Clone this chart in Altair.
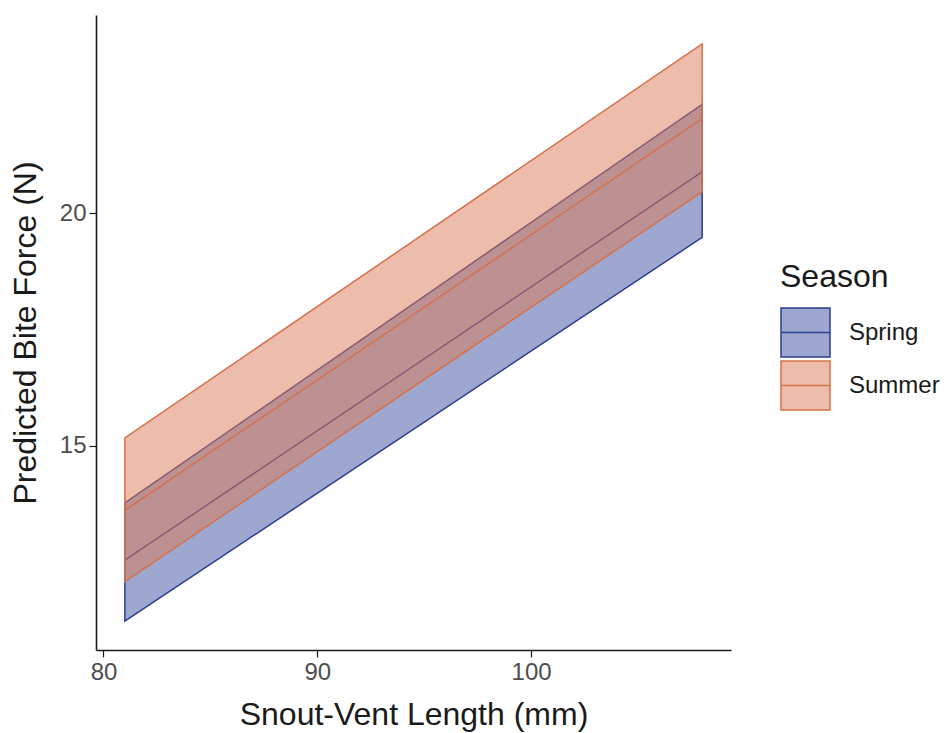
import altair as alt
import pandas as pd

# Predicted bite force across snout-vent length, by season
svl = [81, 108]
seasons = ["Spring", "Summer"]
spring_fit = [12.54, 20.89]
spring_lower = [11.23, 19.48]
spring_upper = [13.77, 22.34]
summer_fit = [13.61, 22.03]
summer_lower = [12.08, 20.46]
summer_upper = [15.17, 23.64]

rows = []
for season, fit, lo, hi in [
    ("Spring", spring_fit, spring_lower, spring_upper),
    ("Summer", summer_fit, summer_lower, summer_upper),
]:
    for x, f, l, h in zip(svl, fit, lo, hi):
        rows.append({"SVL": x, "Season": season, "fit": f, "lower": l, "upper": h})
df = pd.DataFrame(rows)

line_colors = ["#2E3D8F", "#D5714C"]
fill_colors = ["rgba(59,79,160,0.5)", "rgba(221,122,86,0.5)"]

font = "Liberation Sans"
# square key with a horizontal stroke through the middle
key_path = "M-1,-1H1V1H-1Z M-1,0H1"

x_scale = alt.Scale(domain=[79.65, 109.35], nice=False, zero=False)
y_scale = alt.Scale(domain=[10.61, 24.26], nice=False, zero=False)
fill_scale = alt.Scale(domain=seasons, range=fill_colors)
stroke_scale = alt.Scale(domain=seasons, range=line_colors)

legend = alt.Legend(
    title="Season",
    orient="none",
    legendX=684,
    legendY=247,
    symbolType=key_path,
    symbolSize=2401,
    symbolStrokeWidth=1.5,
    rowPadding=-25,
    labelFontSize=24,
    labelColor="#1a1a1a",
    labelFont=font,
    labelOffset=18,
    titleFontSize=32,
    titleFont=font,
    titleFontWeight="normal",
    titleColor="#1a1a1a",
    titlePadding=13,
)

base = alt.Chart(df)


def band(season):
    return base.transform_filter(alt.datum.Season == season).mark_area(strokeWidth=1.5).encode(
        x=alt.X("SVL:Q", title="Snout-Vent Length (mm)", scale=x_scale,
                axis=alt.Axis(values=[80, 90, 100])),
        y=alt.Y("lower:Q", title="Predicted Bite Force (N)", scale=y_scale,
                axis=alt.Axis(values=[15, 20])),
        y2="upper:Q",
        fill=alt.Fill("Season:N", scale=fill_scale, legend=legend),
        stroke=alt.Stroke("Season:N", scale=stroke_scale, legend=legend),
    )


def fit_line(season):
    return base.transform_filter(alt.datum.Season == season).mark_line(strokeWidth=1.5).encode(
        x=alt.X("SVL:Q", scale=x_scale),
        y=alt.Y("fit:Q", scale=y_scale),
        stroke=alt.Stroke("Season:N", scale=stroke_scale, legend=legend),
    )


chart = (
    alt.layer(band("Spring"), fit_line("Spring"), band("Summer"), fit_line("Summer"))
    .properties(
        width=635,
        height=635,
        autosize=alt.AutoSizeParams(type="none"),
        padding={"left": 96, "top": 15, "right": 217, "bottom": 83},
    )
    .configure_view(stroke=None)
    .configure_axis(
        grid=False,
        domainColor="#1a1a1a",
        domainWidth=1.6,
        tickColor="#1a1a1a",
        tickWidth=1.2,
        tickSize=7,
        labelFont=font,
        labelFontSize=24,
        labelColor="#4d4d4d",
        labelPadding=3,
        titleFont=font,
        titleFontSize=32,
        titleFontWeight="normal",
        titleColor="#1a1a1a",
    )
    .configure_axisX(titlePadding=15)
    .configure_axisY(titlePadding=17)
)

chart.save("out.html", embed_options={"renderer": "svg", "actions": False})
